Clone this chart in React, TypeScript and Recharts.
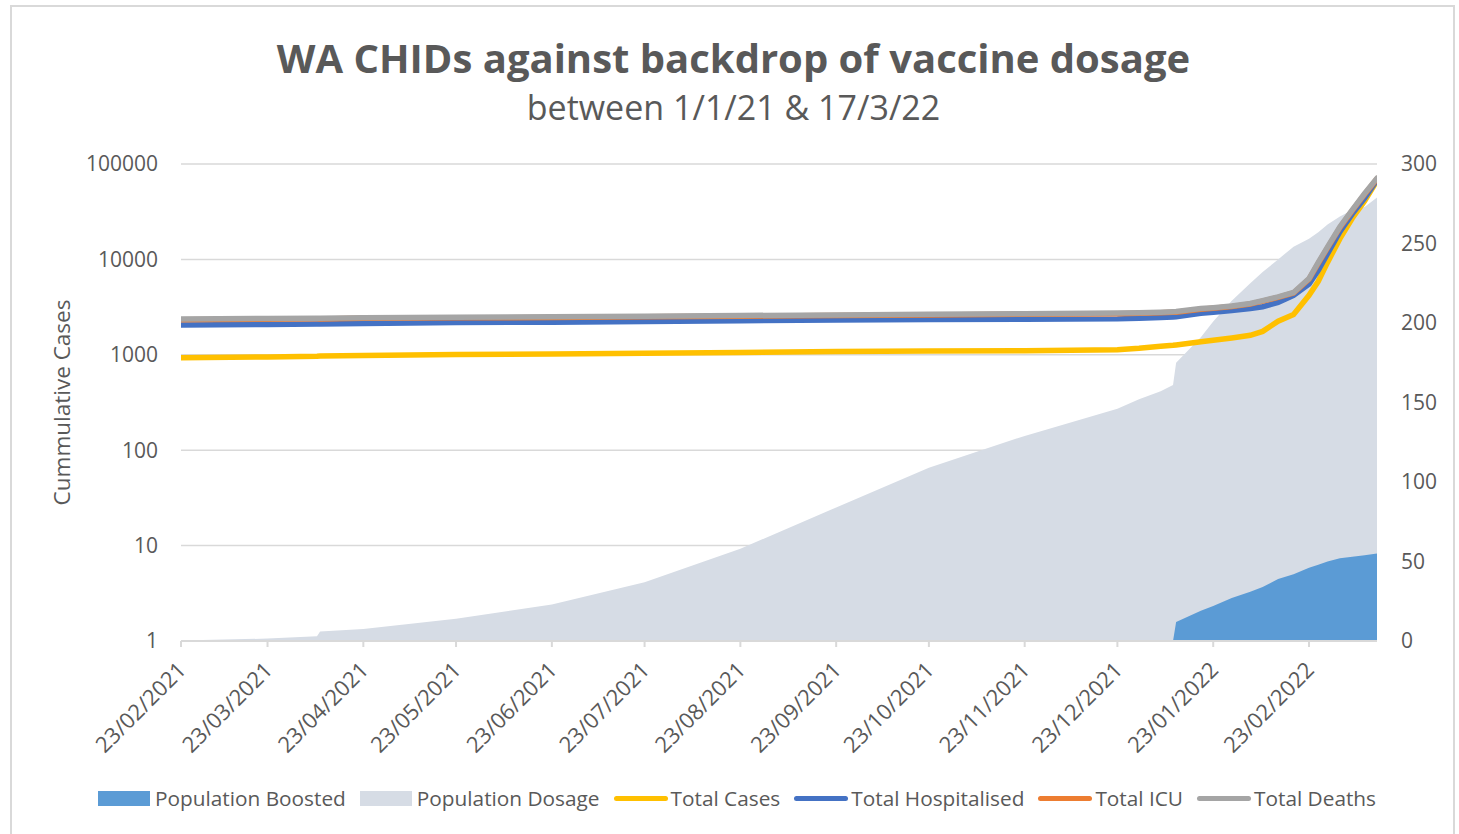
import React from "react";
import { Area, CartesianGrid, ComposedChart, Line, XAxis, YAxis } from "recharts";

const dates = [
  "23/02/2021", "23/03/2021", "08/04/2021", "09/04/2021", "23/04/2021", "23/05/2021",
  "23/06/2021", "23/07/2021", "23/08/2021", "23/09/2021", "23/10/2021", "23/11/2021",
  "23/12/2021", "30/12/2021", "06/01/2022", "10/01/2022", "11/01/2022", "19/01/2022",
  "23/01/2022", "29/01/2022", "04/02/2022", "08/02/2022", "13/02/2022", "18/02/2022",
  "23/02/2022", "26/02/2022", "01/03/2022", "05/03/2022", "09/03/2022", "13/03/2022",
  "17/03/2022"
];

// right axis (0-300)
const populationBoosted = [
  null, null, null, null, null, null, null, null, null, null, null, null, null, null, null,
  0, 12, 19, 22, 27, 31, 34, 39, 42, 46, 48, 50, 52, 53, 54, 55
];
const populationDosage = [
  0.3, 1.5, 3, 6, 7.5, 14, 23, 37, 58, 84, 109, 129, 146, 152, 157,
  161, 175, 191, 201, 214, 225, 232, 240, 248, 253, 257, 262, 267, 271, 273, 279
];

// left axis (log)
const totalCases = [
  930, 950, 965, 970, 985, 1005, 1020, 1040, 1060, 1080, 1095, 1105, 1130, 1170, 1230,
  1260, 1270, 1370, 1420, 1500, 1600, 1760, 2250, 2650, 4200, 5900, 9300, 16500, 27000, 41000, 67000
];
const totalHospitalised = [
  2050, 2080, 2100, 2100, 2130, 2180, 2200, 2240, 2280, 2310, 2340, 2360, 2380, 2420, 2460,
  2490, 2500, 2720, 2800, 2920, 3060, 3190, 3550, 4200, 5500, 7700, 11500, 19500, 30000, 44000, 68000
];
const totalICU = [
  2330, 2360, 2380, 2380, 2410, 2440, 2460, 2500, 2540, 2580, 2620, 2660, 2700, 2720, 2760,
  2790, 2800, 3000, 3070, 3200, 3400, 3650, 4000, 4450, 6200, 9100, 13200, 21500, 32500, 48000, 70000
];
const totalDeaths = [
  2370, 2400, 2420, 2420, 2450, 2480, 2500, 2540, 2580, 2620, 2660, 2700, 2740, 2760, 2800,
  2830, 2840, 3050, 3120, 3250, 3450, 3700, 4050, 4500, 6300, 9300, 13500, 22000, 33000, 49000, 71000
];

const tickDates = [
  "23/02/2021", "23/03/2021", "23/04/2021", "23/05/2021", "23/06/2021", "23/07/2021",
  "23/08/2021", "23/09/2021", "23/10/2021", "23/11/2021", "23/12/2021", "23/01/2022",
  "23/02/2022"
];
const leftTicks = [1, 10, 100, 1000, 10000, 100000];
const rightTicks = [0, 50, 100, 150, 200, 250, 300];

const toTime = (s: string) => {
  const [d, m, y] = s.split("/").map(Number);
  return Date.UTC(y, m - 1, d);
};

const fmtDate = (t: number) => {
  const d = new Date(t);
  const dd = String(d.getUTCDate()).padStart(2, "0");
  const mm = String(d.getUTCMonth() + 1).padStart(2, "0");
  return `${dd}/${mm}/${d.getUTCFullYear()}`;
};

const data = dates.map((d, i) => ({
  t: toTime(d),
  boosted: populationBoosted[i],
  dosage: populationDosage[i],
  cases: totalCases[i],
  hospitalised: totalHospitalised[i],
  icu: totalICU[i],
  deaths: totalDeaths[i]
}));

const TEXT = "#595959";
const GRID = "#D9D9D9";

function DateTick({ x, y, payload }: any) {
  return (
    <text
      transform={`translate(${x + 1},${y + 17}) rotate(-45)`}
      textAnchor="end"
      dy="0.35em"
      fill={TEXT}
      fontSize={22}
    >
      {fmtDate(payload.value)}
    </text>
  );
}

const legendItems = [
  { name: "Population Boosted", color: "#5B9BD5", kind: "box" },
  { name: "Population Dosage", color: "#D6DCE5", kind: "box" },
  { name: "Total Cases", color: "#FFC000", kind: "line" },
  { name: "Total Hospitalised", color: "#4472C4", kind: "line" },
  { name: "Total ICU", color: "#ED7D31", kind: "line" },
  { name: "Total Deaths", color: "#A5A5A5", kind: "line" }
];

export default function App() {
  return (
    <div
      style={{
        position: "absolute",
        left: 0,
        top: 0,
        width: 1459,
        height: 834,
        background: "#fff",
        overflow: "hidden",
        fontFamily: "'Open Sans', sans-serif",
        color: TEXT
      }}
    >
      <div
        style={{
          position: "absolute",
          left: 10,
          top: 5,
          width: 1441,
          height: 840,
          border: `2px solid ${GRID}`
        }}
      />
      <div
        style={{
          position: "absolute",
          left: 0,
          width: 1467,
          top: 38,
          textAlign: "center",
          fontSize: 40,
          fontWeight: 700,
          lineHeight: 1
        }}
      >
        WA CHIDs against backdrop of vaccine dosage
      </div>
      <div
        style={{
          position: "absolute",
          left: 0,
          width: 1467,
          top: 90,
          textAlign: "center",
          fontSize: 34,
          lineHeight: 1
        }}
      >
        between 1/1/21 &amp; 17/3/22
      </div>

      <div style={{ position: "absolute", left: 0, top: 0 }}>
        <ComposedChart
          width={1459}
          height={834}
          data={data}
          margin={{ top: 164, right: 0, left: 0, bottom: 73 }}
        >
          <CartesianGrid yAxisId="left" vertical={false} stroke={GRID} strokeWidth={1.5} />
          <XAxis
            dataKey="t"
            type="number"
            scale="time"
            domain={[toTime("23/02/2021"), toTime("17/03/2022")]}
            allowDataOverflow
            ticks={tickDates.map(toTime)}
            interval={0}
            height={120}
            tick={<DateTick />}
            tickSize={6}
            axisLine={{ stroke: GRID, strokeWidth: 2 }}
            tickLine={{ stroke: GRID, strokeWidth: 2 }}
          />
          <YAxis
            yAxisId="left"
            scale="log"
            domain={[1, 100000]}
            ticks={leftTicks}
            allowDataOverflow
            width={181}
            axisLine={false}
            tickLine={false}
            tickMargin={17}
            tick={{ fill: TEXT, fontSize: 21 }}
            label={{
              content: ({ viewBox }: any) => {
                const cx = viewBox.x + 62;
                const cy = viewBox.y + viewBox.height / 2;
                return (
                  <text
                    x={cx}
                    y={cy}
                    transform={`rotate(-90 ${cx} ${cy})`}
                    textAnchor="middle"
                    dy="0.35em"
                    fill={TEXT}
                    fontSize={22.5}
                  >
                    Cummulative Cases
                  </text>
                );
              }
            }}
          />
          <YAxis
            yAxisId="right"
            orientation="right"
            domain={[0, 300]}
            ticks={rightTicks}
            width={82}
            axisLine={false}
            tickLine={false}
            tickMargin={18}
            tick={{ fill: TEXT, fontSize: 21 }}
          />
          <Area
            yAxisId="right"
            type="linear"
            dataKey="dosage"
            fill="#D6DCE5"
            fillOpacity={1}
            stroke="none"
            isAnimationActive={false}
          />
          <Area
            yAxisId="right"
            type="linear"
            dataKey="boosted"
            fill="#5B9BD5"
            fillOpacity={1}
            stroke="none"
            isAnimationActive={false}
          />
          <Line yAxisId="left" type="linear" dataKey="cases" stroke="#FFC000" strokeWidth={5.5} strokeLinecap="round" dot={false} isAnimationActive={false} />
          <Line yAxisId="left" type="linear" dataKey="hospitalised" stroke="#4472C4" strokeWidth={5.5} strokeLinecap="round" dot={false} isAnimationActive={false} />
          <Line yAxisId="left" type="linear" dataKey="icu" stroke="#ED7D31" strokeWidth={5.5} strokeLinecap="round" dot={false} isAnimationActive={false} />
          <Line yAxisId="left" type="linear" dataKey="deaths" stroke="#A5A5A5" strokeWidth={5.5} strokeLinecap="round" dot={false} isAnimationActive={false} />
        </ComposedChart>
      </div>

      <div
        style={{
          position: "absolute",
          left: 98,
          top: 786,
          display: "flex",
          alignItems: "center",
          fontSize: 20.8,
          lineHeight: "24px"
        }}
      >
        {legendItems.map((it) => (
          <div key={it.name} style={{ display: "flex", alignItems: "center", marginRight: 14 }}>
            {it.kind === "box" ? (
              <span style={{ display: "inline-block", width: 52, height: 15, background: it.color }} />
            ) : (
              <span
                style={{ display: "inline-block", width: 54, height: 5, borderRadius: 3, background: it.color }}
              />
            )}
            <span style={{ marginLeft: it.kind === "box" ? 5 : 3, whiteSpace: "nowrap" }}>{it.name}</span>
          </div>
        ))}
      </div>
    </div>
  );
}
